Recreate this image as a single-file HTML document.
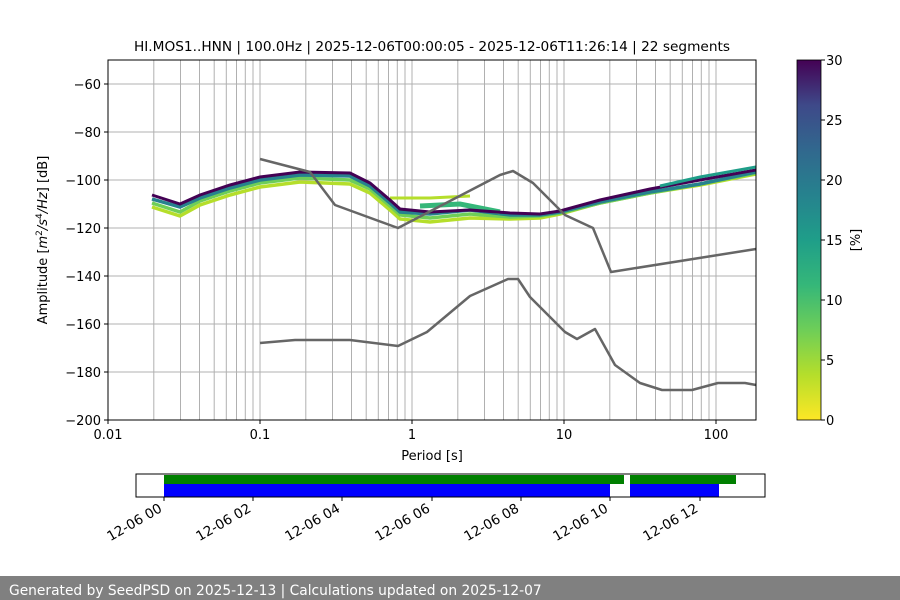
<!DOCTYPE html>
<html><head><meta charset="utf-8"><style>
html,body{margin:0;padding:0;background:#fff;width:900px;height:600px;overflow:hidden}
text{font-family:"DejaVu Sans","Liberation Sans",sans-serif;fill:#000}
</style></head><body>
<svg width="900" height="600" viewBox="0 0 900 600" xmlns="http://www.w3.org/2000/svg">
<defs>
<linearGradient id="vir" x1="0" y1="1" x2="0" y2="0">
<stop offset="0" stop-color="#fde725"/>
<stop offset="0.125" stop-color="#b5de2b"/>
<stop offset="0.25" stop-color="#6ece58"/>
<stop offset="0.375" stop-color="#35b779"/>
<stop offset="0.5" stop-color="#1f9e89"/>
<stop offset="0.625" stop-color="#26828e"/>
<stop offset="0.75" stop-color="#31688e"/>
<stop offset="0.875" stop-color="#3e4989"/>
<stop offset="1" stop-color="#440154"/>
</linearGradient>
<clipPath id="ax"><rect x="108" y="60" width="648" height="360"/></clipPath>
</defs>
<text x="432" y="51" font-size="13.7" text-anchor="middle">HI.MOS1..HNN | 100.0Hz | 2025-12-06T00:00:05 - 2025-12-06T11:26:14 | 22 segments</text>
<g stroke="#b0b0b0" stroke-width="1">
<path d="M153.8 60V420M180.5 60V420M199.5 60V420M214.2 60V420M226.3 60V420M236.5 60V420M245.3 60V420M253 60V420M260 60V420
M305.8 60V420M332.5 60V420M351.5 60V420M366.2 60V420M378.3 60V420M388.5 60V420M397.3 60V420M405 60V420M412 60V420
M457.8 60V420M484.5 60V420M503.5 60V420M518.2 60V420M530.3 60V420M540.5 60V420M549.3 60V420M557 60V420M564 60V420
M609.8 60V420M636.5 60V420M655.5 60V420M670.2 60V420M682.3 60V420M692.5 60V420M701.3 60V420M709 60V420M716 60V420
M108 84H756M108 132H756M108 180H756M108 228H756M108 276H756M108 324H756M108 372H756"/>
</g>
<g clip-path="url(#ax)" fill="none" stroke-width="3.5">
<polyline stroke="#b5de2b" points="152,207 180,216 200,205 230,195 260,187 300,182 350,184 370,193 390,210 400,219 430,222 470,218 510,219 540,218 560,214 600,203 650,193 700,185 756,174"/>
<polyline stroke="#6ece58" points="152,203 180,212 200,201 230,191 260,183 300,178 350,180 370,189 390,206 400,215 430,218 470,214 510,217 540,216 560,213 600,203 650,193 700,184 756,173"/>
<polyline stroke="#26828e" points="152,199 180,207 200,198 230,188 260,180 300,175 350,176 370,186 390,203 400,212 430,214 470,210 510,215 540,215 560,212 600,202 650,192 700,184 756,172"/>
<polyline stroke="#35b779" points="420,206 460,204 500,212" stroke-width="5"/>
<polyline stroke="#b5de2b" points="390,198 430,198 470,196" stroke-width="3"/>
<polyline stroke="#440154" stroke-width="3" points="152,195 180,204 200,195 230,185 260,177 300,172 350,173 370,183 390,200 400,209 430,212 470,210 510,213 540,214 560,211 600,200 650,189 700,180 756,170"/>
<polyline stroke="#1f9e89" points="660,186 700,177 756,167" stroke-width="3"/>
</g>
<g fill="none" stroke="#666" stroke-width="2.5" stroke-linejoin="round">
<polyline points="260,159 310,172 335,205 398,228 500,175 513,171 533,183 565,215 593,228 611,272 756,249"/>
<polyline points="260,343 295,340 350,340 398,346 427,332 470,296 508,279 518,279 530,297 565,332 577,339 595,329 615,365 640,383 662,390 692,390 718,383 745,383 756,385"/>
</g>
<rect x="108" y="60" width="648" height="360" fill="none" stroke="#000" stroke-width="1"/>
<g stroke="#000"><path d="M108 420v4M260 420v4M412 420v4M564 420v4M716 420v4M104 84h4M104 132h4M104 180h4M104 228h4M104 276h4M104 324h4M104 372h4M104 420h4"/></g>
<g font-size="13" text-anchor="end">
<text x="101" y="89">−60</text><text x="101" y="137">−80</text><text x="101" y="185">−100</text><text x="101" y="233">−120</text><text x="101" y="281">−140</text><text x="101" y="329">−160</text><text x="101" y="377">−180</text><text x="101" y="425">−200</text>
</g>
<g font-size="13" text-anchor="middle">
<text x="108" y="439">0.01</text><text x="260" y="439">0.1</text><text x="412" y="439">1</text><text x="564" y="439">10</text><text x="716" y="439">100</text>
<text x="432" y="460">Period [s]</text>
</g>
<text transform="translate(47,240) rotate(-90)" font-size="13" text-anchor="middle">Amplitude [<tspan font-style="italic">m</tspan><tspan font-size="9" dy="-5">2</tspan><tspan dy="5" font-style="italic">/s</tspan><tspan font-size="9" dy="-5">4</tspan><tspan dy="5" font-style="italic">/Hz</tspan>] [dB]</text>
<rect x="797" y="60" width="24" height="360" fill="url(#vir)" stroke="#000" stroke-width="0.8"/>
<g stroke="#000"><path d="M821 60h4M821 120h4M821 180h4M821 240h4M821 300h4M821 360h4M821 420h4"/></g>
<g font-size="13"><text x="826" y="65">30</text><text x="826" y="125">25</text><text x="826" y="185">20</text><text x="826" y="245">15</text><text x="826" y="305">10</text><text x="826" y="365">5</text><text x="826" y="425">0</text></g>
<text transform="translate(860,240) rotate(-90)" font-size="13" text-anchor="middle">[%]</text>
<rect x="164" y="475" width="460" height="9" fill="#008000"/>
<rect x="630" y="475" width="106" height="9" fill="#008000"/>
<rect x="164" y="484" width="446" height="13" fill="#0000ff"/>
<rect x="630" y="484" width="89" height="13" fill="#0000ff"/>
<rect x="136" y="474" width="629" height="23" fill="none" stroke="#000" stroke-width="1"/>
<g stroke="#000"><path d="M164 497v4M253 497v4M342 497v4M432 497v4M521 497v4M610 497v4M700 497v4"/></g>
<g font-size="13.5" text-anchor="end">
<text transform="translate(163,511) rotate(-30)">12-06 00</text>
<text transform="translate(252,511) rotate(-30)">12-06 02</text>
<text transform="translate(341,511) rotate(-30)">12-06 04</text>
<text transform="translate(431,511) rotate(-30)">12-06 06</text>
<text transform="translate(520,511) rotate(-30)">12-06 08</text>
<text transform="translate(609,511) rotate(-30)">12-06 10</text>
<text transform="translate(699,511) rotate(-30)">12-06 12</text>
</g>
<rect x="0" y="576" width="900" height="24" fill="#808080"/>
<text x="9" y="595" font-size="13.8" style="fill:#fff">Generated by SeedPSD on 2025-12-13 | Calculations updated on 2025-12-07</text>
</svg>
</body></html>
